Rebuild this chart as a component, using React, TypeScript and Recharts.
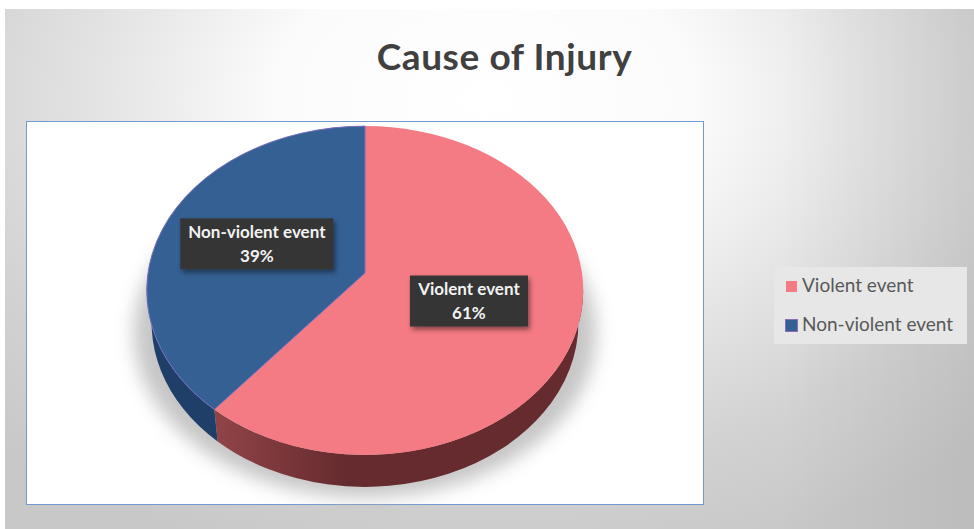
import { Legend, Pie, PieChart } from "recharts";

// Datos
const causes = ["Violent event", "Non-violent event"];
const shares = [61, 39];
const faceColors = ["#f47a83", "#356093"];
const wallFills = ["url(#wallRed)", "#1f3f68"];
const labelReach = [0.5, 0.54];

const rows = causes.map((name, i) => ({ name, value: shares[i] }));

const RAD = Math.PI / 180;
const TILT = 0.749; // aplastamiento vertical del disco
const PERSPECTIVE = 0.1064; // el centro del disco queda por encima del centro de la elipse
const DEPTH = 32;
const BOTTOM_SCALE = 0.978;

// proyecta un punto del disco (angulo recharts, radio) a la pantalla
function project(cx: number, cy: number, R: number, angle: number, reach = 1) {
  const u = Math.cos(angle * RAD) * reach;
  const v = -Math.sin(angle * RAD) * reach;
  const w = 1 - PERSPECTIVE * v;
  return { x: cx + (R * u) / w, y: cy + (R * TILT * v) / w };
}

function DiscSlice(props: any) {
  const { cx, cy, outerRadius: R, startAngle, endAngle, index } = props;
  const rx = R * 1.0057;
  const ry = (R * TILT) / (1 - PERSPECTIVE * PERSPECTIVE);
  const a = project(cx, cy, R, startAngle);
  const b = project(cx, cy, R, endAngle);
  const large = startAngle - endAngle > 180 ? 1 : 0;

  // pared lateral: solo la parte delantera del disco
  const wallStart = Math.min(startAngle, -6);
  const wallEnd = Math.max(endAngle, -186);
  const p = project(cx, cy, R, wallStart);
  const q = project(cx, cy, R, wallEnd);
  const lower = (pt: { x: number; y: number }) => ({
    x: cx + (pt.x - cx) * BOTTOM_SCALE,
    y: pt.y + DEPTH,
  });
  const p2 = lower(p);
  const q2 = lower(q);
  const wall = `M${p.x},${p.y} A${rx},${ry} 0 0 1 ${q.x},${q.y} L${q2.x},${q2.y} A${rx * BOTTOM_SCALE},${ry} 0 0 0 ${p2.x},${p2.y} Z`;
  const face = `M${cx},${cy} L${a.x},${a.y} A${rx},${ry} 0 ${large} 1 ${b.x},${b.y} Z`;

  return (
    <g>
      {index === 0 && (
        <ellipse cx={cx} cy={cy + 60} rx={R + 14} ry={ry} fill="#bcbcbc" opacity={0.85} filter="url(#pieShadow)" />
      )}
      <path d={wall} fill={wallFills[index]} />
      <path d={face} fill={faceColors[index]} stroke={index === 1 ? "#7a6fc0" : "none"} strokeWidth={1} />
    </g>
  );
}

function BoxLabel(props: any) {
  const { cx, cy, outerRadius, midAngle, index, name, value } = props;
  const c = project(cx, cy, outerRadius, midAngle, labelReach[index]);
  const w = index === 0 ? 118 : 153;
  return (
    <g>
      <rect x={c.x - w / 2} y={c.y - 25.5} width={w} height={51} fill="#343434" filter="url(#boxShadow)" />
      <text x={c.x} y={c.y - 6} textAnchor="middle" fill="#f2f2f2" fontSize={17} fontWeight={700} fontFamily="Lato">
        {name}
      </text>
      <text x={c.x} y={c.y + 18} textAnchor="middle" fill="#f2f2f2" fontSize={17} fontWeight={700} fontFamily="Lato">
        {value}%
      </text>
    </g>
  );
}

function LegendBox() {
  return (
    <div style={{ width: 193, height: 77, background: "#e7e7e7", position: "relative", fontFamily: "Lato", fontSize: 19, color: "#595959" }}>
      {causes.map((c, i) => (
        <div key={c} style={{ position: "absolute", left: 12, top: i === 0 ? 6 : 45, height: 24, lineHeight: "24px", whiteSpace: "nowrap" }}>
          <span
            style={{
              display: "inline-block",
              width: 11,
              height: 11,
              marginRight: 5,
              background: faceColors[i],
              outline: i === 1 ? "1px solid #8a6fb5" : undefined,
            }}
          />
          {c}
        </div>
      ))}
    </div>
  );
}

export default function App() {
  return (
    <div style={{ position: "fixed", left: 0, top: 0, width: 974, height: 529, overflow: "hidden", background: "#fff" }}>
      <div
        style={{
          position: "absolute",
          left: 5,
          top: 9,
          width: 969,
          height: 520,
          background:
            "linear-gradient(90deg, rgba(0,0,0,0) 80%, rgba(0,0,0,0.06) 100%), radial-gradient(ellipse 700px 480px at 480px 90px, #ffffff 0%, #fbfbfb 30%, #e4e4e4 55%, #d2d2d2 78%, #c8c8c8 100%)",
        }}
      />
      <div
        style={{
          position: "absolute",
          left: 0,
          top: 28,
          width: 1009,
          textAlign: "center",
          fontFamily: "Lato",
          fontWeight: 700,
          fontSize: 37,
          letterSpacing: 0.6,
          lineHeight: "56px",
          color: "#404040",
        }}
      >
        Cause of Injury
      </div>
      <div
        style={{
          position: "absolute",
          left: 26,
          top: 121,
          width: 678,
          height: 384,
          background: "#fff",
          border: "1.5px solid #6f9bd1",
          boxSizing: "border-box",
        }}
      />
      <div style={{ position: "absolute", left: 0, top: 0 }}>
        <PieChart width={974} height={529} margin={{ top: 0, right: 0, bottom: 0, left: 0 }}>
          <defs>
            <linearGradient id="wallRed" gradientUnits="userSpaceOnUse" x1={219} y1={0} x2={345} y2={0}>
              <stop offset="0%" stopColor="#904347" />
              <stop offset="100%" stopColor="#652b2e" />
            </linearGradient>
            <filter id="pieShadow" x="-20%" y="-20%" width="140%" height="140%">
              <feGaussianBlur stdDeviation={9} />
            </filter>
            <filter id="boxShadow" x="-20%" y="-30%" width="140%" height="170%">
              <feDropShadow dx={2} dy={3} stdDeviation={2.5} floodColor="#000" floodOpacity={0.45} />
            </filter>
          </defs>
          <Pie
            data={rows}
            dataKey="value"
            nameKey="name"
            cx={365}
            cy={273}
            outerRadius={217}
            startAngle={90}
            endAngle={-270}
            stroke="none"
            shape={DiscSlice}
            label={BoxLabel}
            labelLine={false}
            isAnimationActive={false}
          />
          <Legend
            content={LegendBox}
            layout="vertical"
            wrapperStyle={{ position: "absolute", left: 774, top: 267, width: 193, height: 77 }}
          />
        </PieChart>
      </div>
    </div>
  );
}
